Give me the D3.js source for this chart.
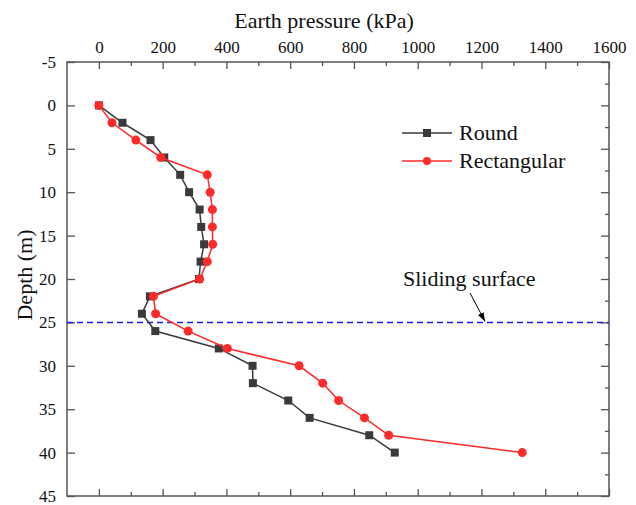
<!DOCTYPE html>
<html><head><meta charset="utf-8">
<script src="https://cdn.jsdelivr.net/npm/d3@7"></script>
<style>
html,body{margin:0;padding:0;background:#fff;}
svg text{font-family:"Liberation Serif","Times New Roman",serif !important;}
</style>
</head><body>
<svg id="chart" width="636" height="505" font-family="Liberation Serif, Times New Roman, serif"></svg>
<script>
const depths = [0,2,4,6,8,10,12,14,16,18,20,22,24,26,28,30,32,34,36,38,40];
const roundVals = [0,74,162,205,255,283,316,321,330,319,314,160,135,177,376,482,483,594,661,848,928];
const rectVals  = [0,41,116,194,340,349,356,356,357,340,316,171,178,280,403,628,702,752,833,909,1328];
const xTicks = [0,200,400,600,800,1000,1200,1400,1600];
const xMinor = [100,300,500,700,900,1100,1300,1500];
const yTicks = [-5,0,5,10,15,20,25,30,35,40,45];
const yMinor = [-2.5,2.5,7.5,12.5,17.5,22.5,27.5,32.5,37.5,42.5];
const slidingDepth = 25;
const seriesNames = ["Round","Rectangular"];

const FONT = "Liberation Serif, Times New Roman, serif";
const svg = d3.select("#chart");
const L = 67, R = 609, T = 62, B = 496;
const x = d3.scaleLinear().domain([-100,1600]).range([L,R]);
const y = d3.scaleLinear().domain([-5,45]).range([T,B]);
const axisColor = "#555";
const fmt = d => String(d);

function styleAxis(g){
  g.attr("font-family",FONT).attr("font-size",17);
  g.select(".domain").remove();
  g.selectAll("line").attr("stroke",axisColor).attr("stroke-width",1.3);
  g.selectAll("text").attr("fill","#111").attr("font-family",FONT).attr("font-size",17);
}

// minor ticks
svg.append("g").attr("transform",`translate(0,${T})`).call(d3.axisTop(x).tickValues(xMinor).tickSize(-4).tickFormat("")).call(styleAxis);
svg.append("g").attr("transform",`translate(0,${B})`).call(d3.axisBottom(x).tickValues(xMinor).tickSize(-4).tickFormat("")).call(styleAxis);
svg.append("g").attr("transform",`translate(${R},0)`).call(d3.axisRight(y).tickValues(yMinor).tickSize(-4).tickFormat("")).call(styleAxis);
// major ticks
svg.append("g").attr("transform",`translate(0,${T})`).call(d3.axisTop(x).tickValues(xTicks).tickSize(-7).tickPadding(9).tickFormat(fmt)).call(styleAxis);
svg.append("g").attr("transform",`translate(0,${B})`).call(d3.axisBottom(x).tickValues(xTicks).tickSize(-7).tickFormat("")).call(styleAxis);
svg.append("g").attr("transform",`translate(${L},0)`).call(d3.axisLeft(y).tickValues(yTicks).tickSize(-8).tickPadding(11).tickFormat(fmt)).call(styleAxis);
svg.append("g").attr("transform",`translate(${R},0)`).call(d3.axisRight(y).tickValues(yTicks).tickSize(-8).tickFormat("")).call(styleAxis);

// frame
svg.append("rect").attr("x",L).attr("y",T).attr("width",R-L).attr("height",B-T)
  .attr("fill","none").attr("stroke",axisColor).attr("stroke-width",1.5);

// axis titles
svg.append("text").attr("x",324).attr("y",28).attr("text-anchor","middle").attr("font-family",FONT)
  .attr("font-size",22).attr("fill","#111").text("Earth pressure (kPa)");
svg.append("text").attr("transform","translate(32,275) rotate(-90)").attr("text-anchor","middle").attr("font-family",FONT)
  .attr("font-size",22).attr("fill","#111").text("Depth (m)");

// sliding surface
svg.append("line").attr("x1",L).attr("x2",R).attr("y1",y(slidingDepth)).attr("y2",y(slidingDepth))
  .attr("stroke","#1a1aee").attr("stroke-width",1.5).attr("stroke-dasharray","6,4");

const defs = svg.append("defs");
defs.append("marker").attr("id","arr").attr("viewBox","0 0 10 10").attr("refX",10).attr("refY",5)
  .attr("markerWidth",9).attr("markerHeight",9).attr("orient","auto").attr("markerUnits","userSpaceOnUse")
  .append("path").attr("d","M0,1.5 L10,5 L0,8.5 Z").attr("fill","#000");
svg.append("line").attr("x1",470).attr("y1",293).attr("x2",485).attr("y2",y(slidingDepth)-1)
  .attr("stroke","#000").attr("stroke-width",1).attr("marker-end","url(#arr)");
svg.append("text").attr("x",403).attr("y",286).attr("font-family",FONT).attr("font-size",22).attr("fill","#111").text("Sliding surface");

// series
const line = d3.line().x(d=>x(d[0])).y(d=>y(d[1]));
const roundData = depths.map((dd,i)=>[roundVals[i],dd]);
const rectData = depths.map((dd,i)=>[rectVals[i],dd]);
const grey = "#3a3a3a", red = "#ff2a2a";

svg.append("path").datum(roundData).attr("d",line).attr("fill","none").attr("stroke",grey).attr("stroke-width",1.5);
svg.selectAll(".sq").data(roundData).enter().append("rect")
  .attr("x",d=>x(d[0])-4).attr("y",d=>y(d[1])-4).attr("width",8).attr("height",8).attr("fill",grey);

svg.append("path").datum(rectData).attr("d",line).attr("fill","none").attr("stroke",red).attr("stroke-width",1.5);
svg.selectAll(".ci").data(rectData).enter().append("circle")
  .attr("cx",d=>x(d[0])).attr("cy",d=>y(d[1])).attr("r",4.5).attr("fill",red);

// legend
const lg = svg.append("g");
const legY = [133,161];
[grey,red].forEach((c,i)=>{
  lg.append("line").attr("x1",402).attr("x2",452).attr("y1",legY[i]).attr("y2",legY[i]).attr("stroke",c).attr("stroke-width",1.5);
  if(i===0) lg.append("rect").attr("x",427-4).attr("y",legY[i]-4).attr("width",8).attr("height",8).attr("fill",c);
  else lg.append("circle").attr("cx",427).attr("cy",legY[i]).attr("r",4).attr("fill",c);
  lg.append("text").attr("x",459).attr("y",legY[i]+7).attr("font-family",FONT).attr("font-size",22).attr("fill","#111").text(seriesNames[i]);
});
</script>
</body></html>
